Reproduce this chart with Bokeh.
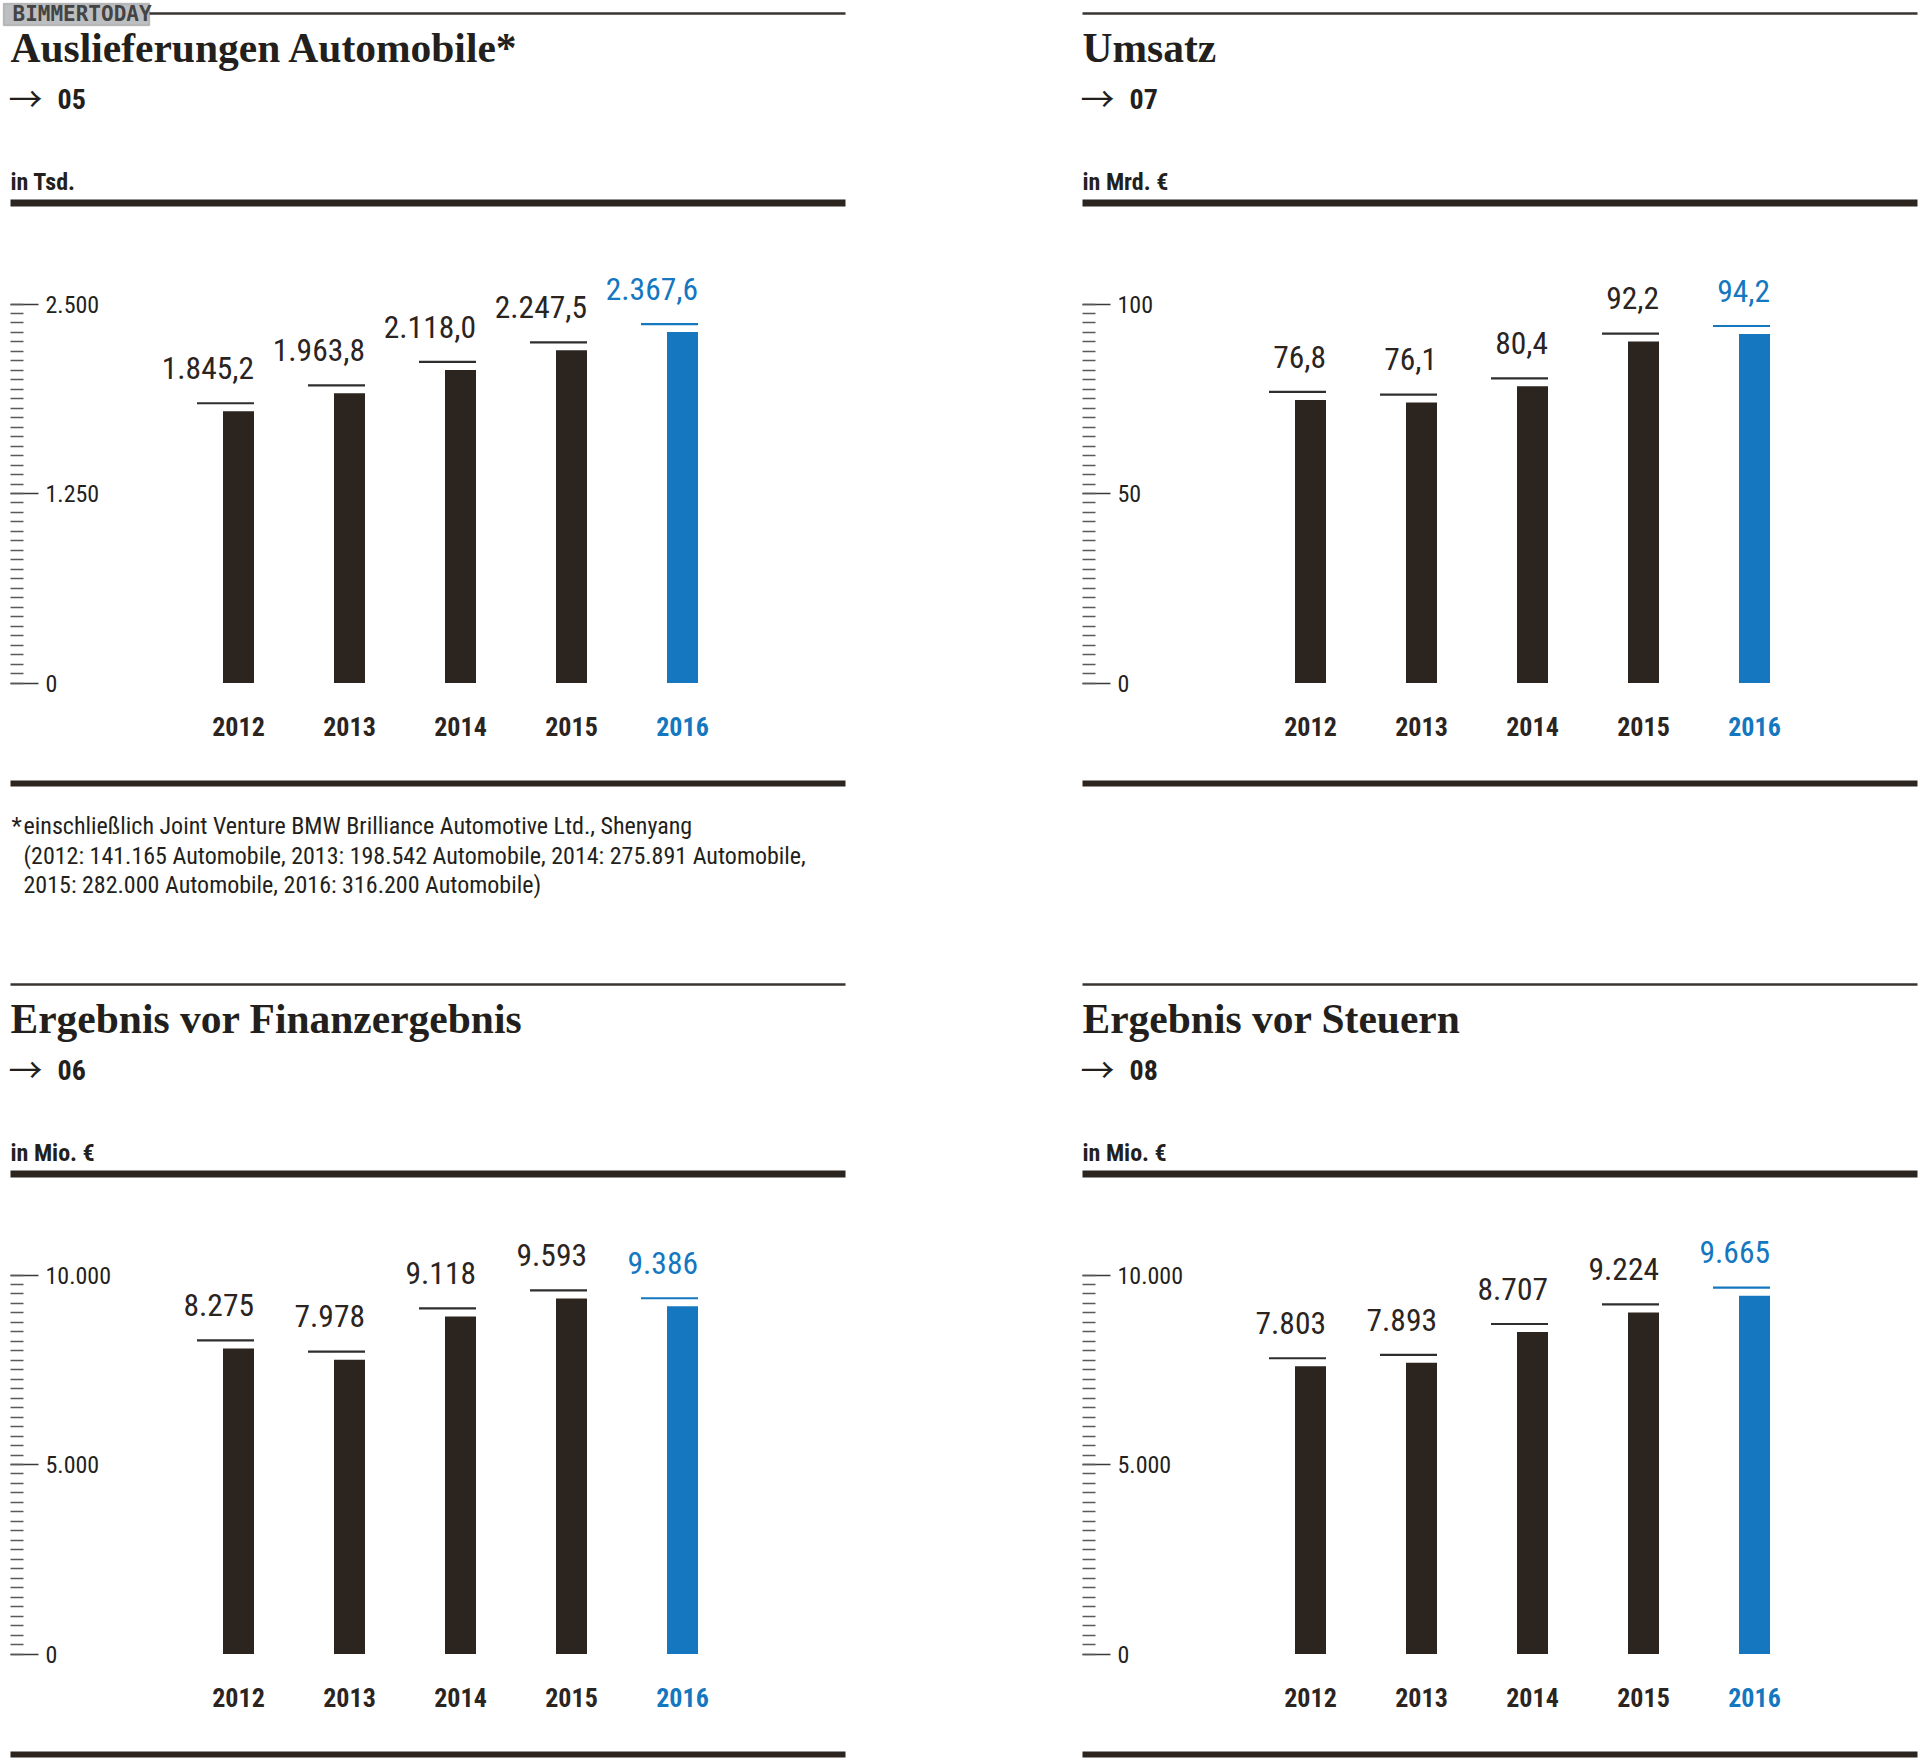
from bokeh.plotting import figure
from bokeh.models import (Range1d, LinearAxis, SingleIntervalTicker, Label,
                          BoxAnnotation, ColumnDataSource)
from bokeh.core.properties import value
from bokeh.embed import file_html
from bokeh.resources import INLINE

# ---------------- data ----------------
YEARS = [2012, 2013, 2014, 2015, 2016]
YEAR_LABELS = ["2012", "2013", "2014", "2015", "2016"]
HIGHLIGHT_YEAR = 2016

DELIVERIES = [1845.2, 1963.8, 2118.0, 2247.5, 2367.6]
DELIVERIES_LABELS = ["1.845,2", "1.963,8", "2.118,0", "2.247,5", "2.367,6"]
DELIVERIES_TICKS = [0, 1250, 2500]
DELIVERIES_TICK_LABELS = ["0", "1.250", "2.500"]

REVENUES = [76.8, 76.1, 80.4, 92.2, 94.2]
REVENUES_LABELS = ["76,8", "76,1", "80,4", "92,2", "94,2"]
REVENUES_TICKS = [0, 50, 100]
REVENUES_TICK_LABELS = ["0", "50", "100"]

EBIT = [8275, 7978, 9118, 9593, 9386]
EBIT_LABELS = ["8.275", "7.978", "9.118", "9.593", "9.386"]
EBT = [7803, 7893, 8707, 9224, 9665]
EBT_LABELS = ["7.803", "7.893", "8.707", "9.224", "9.665"]
MIO_TICKS = [0, 5000, 10000]
MIO_TICK_LABELS = ["0", "5.000", "10.000"]

FOOTNOTE = ["einschließlich Joint Venture BMW Brilliance Automotive Ltd., Shenyang",
            "(2012: 141.165 Automobile, 2013: 198.542 Automobile, 2014: 275.891 Automobile,",
            "2015: 282.000 Automobile, 2016: 316.200 Automobile)"]

PANELS = [
    dict(col=0, row=0, title="Auslieferungen Automobile*", ref="05", unit="in Tsd.",
         values=DELIVERIES, labels=DELIVERIES_LABELS, ticks=DELIVERIES_TICKS,
         tick_labels=DELIVERIES_TICK_LABELS),
    dict(col=1, row=0, title="Umsatz", ref="07", unit="in Mrd. €",
         values=REVENUES, labels=REVENUES_LABELS, ticks=REVENUES_TICKS,
         tick_labels=REVENUES_TICK_LABELS),
    dict(col=0, row=1, title="Ergebnis vor Finanzergebnis", ref="06", unit="in Mio. €",
         values=EBIT, labels=EBIT_LABELS, ticks=MIO_TICKS, tick_labels=MIO_TICK_LABELS),
    dict(col=1, row=1, title="Ergebnis vor Steuern", ref="08", unit="in Mio. €",
         values=EBT, labels=EBT_LABELS, ticks=MIO_TICKS, tick_labels=MIO_TICK_LABELS),
]

# ---------------- style / layout ----------------
INK = "#231f1c"
BAR = "#2b241f"
BLUE = "#1577bf"
RULE = "#2b241f"
COND = "Roboto Condensed, Liberation Sans Narrow, DejaVu Sans Condensed, Roboto, sans-serif"
SERIF = "Liberation Serif"

W, H = 1920, 1763
X0, Y0 = 0, 0
BASE_FIX = 0.42  # baseline correction (fraction of font size)

PANEL_LEFT = [10, 1082]
PANEL_RIGHT = [845, 1917]
ROW_DY = [0, 971]
TOPLINE_Y = 13
TITLE_BASE = 65
REF_BASE = 110
UNIT_BASE = 192
RULE_Y = 202.5
AXIS_TOP = 303.5
AXIS_BASE = 682.5
END_RULE = 783
BAR0_OFFSET = 228
STEP_PX = 111.0
BAR_PX = 31.0
EXT_PX = 26.0
GAP_PX = 8.0

p = figure(width=W, height=H, x_range=Range1d(X0, X0 + W), y_range=Range1d(Y0 + H, Y0),
           output_backend="svg", toolbar_location=None, x_axis_type=None, y_axis_type=None,
           min_border=0, title=None, outline_line_color=None, background_fill_color="white")

# extra ranges
xr = {}
yr = {}
for c in (0, 1):
    bar0 = PANEL_LEFT[c] + BAR0_OFFSET
    xr[f"x{c}"] = Range1d(start=YEARS[0] - (bar0 - X0) / STEP_PX,
                          end=YEARS[0] + (X0 + W - bar0) / STEP_PX)
for i, pn in enumerate(PANELS):
    dy = ROW_DY[pn["row"]]
    yb, yt = AXIS_BASE + dy, AXIS_TOP + dy
    vmax = pn["ticks"][-1]
    s = vmax / (yb - yt)
    pn["scale"] = s
    yr[f"v{i}"] = Range1d(start=-(Y0 + H - yb) * s, end=(yb - Y0) * s)
p.extra_x_ranges = xr
p.extra_y_ranges = yr


def hrule(x0, x1, yc, thick, color=RULE):
    p.add_layout(BoxAnnotation(left=x0, right=min(x1, X0 + W), top=yc - thick / 2,
                               bottom=yc + thick / 2, fill_color=color, fill_alpha=1,
                               line_color=None))


def label(x, y, text, font, size, style="normal", color=INK, align="left"):
    p.add_layout(Label(x=x, y=y - BASE_FIX * size, text=text, text_font=font,
                       text_font_size=f"{size}px", text_font_style=style,
                       text_color=color, text_align=align, text_baseline="alphabetic"))


bw = BAR_PX / STEP_PX
ext = EXT_PX / STEP_PX
VAL_SIZE = 31.5
YEAR_SIZE = 26

for i, pn in enumerate(PANELS):
    c, r = pn["col"], pn["row"]
    L, R, dy = PANEL_LEFT[c], PANEL_RIGHT[c], ROW_DY[r]
    xname, yname = f"x{c}", f"v{i}"

    # header
    hrule(L, R, TOPLINE_Y + dy, 2.5, "#3a3430")
    label(L, TITLE_BASE + dy, pn["title"], SERIF, 41.5, "bold")
    label(L - 2, REF_BASE + dy + 1, "→", "Noto Sans CJK JP, DejaVu Sans", 34, "normal")
    label(L + 47, REF_BASE + dy, pn["ref"], COND, 28, "bold")
    label(L, UNIT_BASE + dy, pn["unit"], COND, 24, "bold")
    hrule(L, R, RULE_Y + dy, 7)
    hrule(L, R, END_RULE + dy, 6)

    vals = pn["values"]
    gap = GAP_PX * pn["scale"]
    colors = [BLUE if y == HIGHLIGHT_YEAR else BAR for y in YEARS]
    dash_colors = [BLUE if y == HIGHLIGHT_YEAR else "#2e2e2e" for y in YEARS]
    src = ColumnDataSource(dict(
        x=YEARS, val=vals, top=[v - gap for v in vals], lab=pn["labels"],
        year=YEAR_LABELS, zero=[0] * len(YEARS), color=colors, dcolor=dash_colors,
        x0=[y - bw / 2 - ext for y in YEARS], x1=[y + bw / 2 for y in YEARS]))

    p.vbar(x="x", top="top", bottom=0, width=bw, fill_color="color", line_color=None,
           source=src, x_range_name=xname, y_range_name=yname)
    p.segment(x0="x0", x1="x1", y0="val", y1="val", line_color="dcolor", line_width=2.2,
              source=src, x_range_name=xname, y_range_name=yname)
    p.text(x="x", y="val", text="lab", text_color="color", x_offset=BAR_PX / 2,
           y_offset=-22 - BASE_FIX * VAL_SIZE,
           text_align="right", text_baseline="alphabetic", text_font=value(COND),
           text_font_size=f"{VAL_SIZE}px", source=src, x_range_name=xname, y_range_name=yname)
    p.text(x="x", y="zero", text="year", text_color="color", y_offset=54 - BASE_FIX * YEAR_SIZE,
           text_align="center", text_baseline="alphabetic", text_font=value(COND),
           text_font_style="bold", text_font_size=f"{YEAR_SIZE}px", source=src,
           x_range_name=xname, y_range_name=yname)

    vmax = pn["ticks"][-1]
    ax = LinearAxis(y_range_name=yname, fixed_location=L, bounds=(0, vmax),
                    ticker=SingleIntervalTicker(interval=pn["ticks"][1], num_minor_ticks=20),
                    major_label_overrides=dict(zip(pn["ticks"], pn["tick_labels"])),
                    axis_line_color=None, major_tick_in=0, major_tick_out=28,
                    minor_tick_in=0, minor_tick_out=13, major_label_standoff=7,
                    major_tick_line_color="#3a3a3a", major_tick_line_width=1.5,
                    minor_tick_line_color="#5a5a5a", minor_tick_line_width=1.5,
                    major_label_text_font=COND, major_label_text_font_size="24px",
                    major_label_text_color=INK)
    p.add_layout(ax, "right")

# footnote
FN_SIZE = 24
label(11, 836, "*", COND, FN_SIZE)
for k, line in enumerate(FOOTNOTE):
    label(23, 836 + 29.5 * k, line, COND, FN_SIZE)

# watermark logo
p.add_layout(BoxAnnotation(left=3, right=149, top=3, bottom=25, fill_color="#bdbec2",
                           fill_alpha=1, line_color="#5e5e5e", line_width=1.5))
label(12, 22, "BIMMERTODAY", "DejaVu Sans Mono", 21, "bold", "#444444")

open("out.html", "w").write(file_html(p, INLINE))
